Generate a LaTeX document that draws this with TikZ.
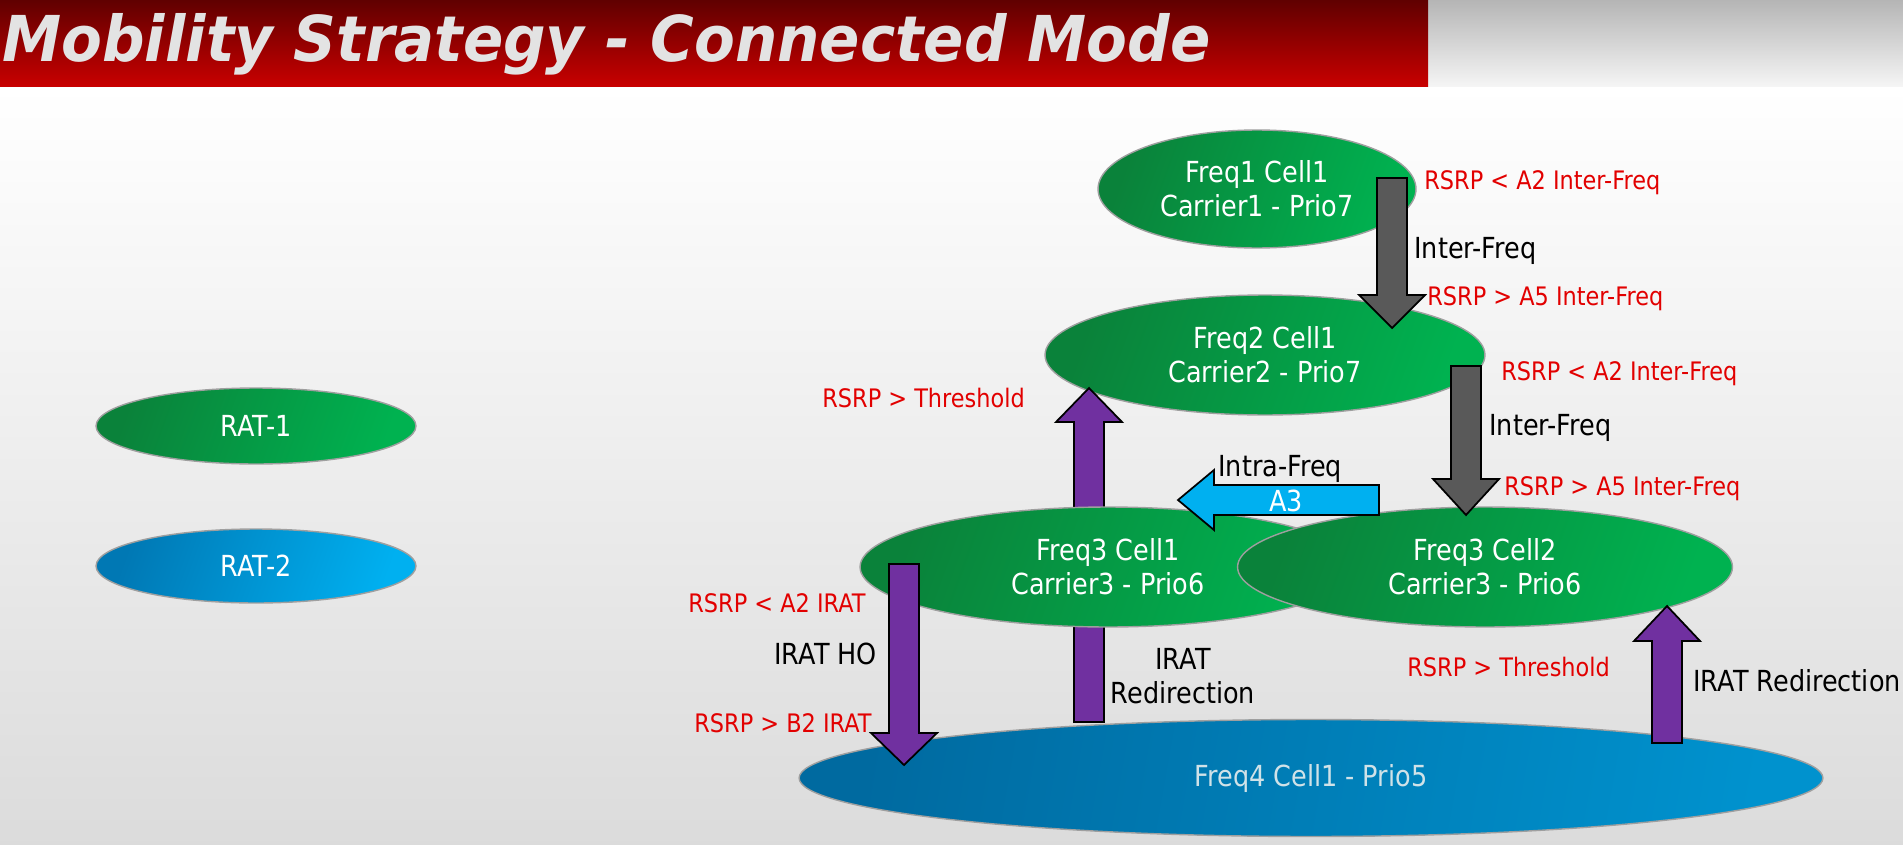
\documentclass[tikz,border=0pt]{standalone}
\usepackage{fontspec}
\setmainfont{DejaVu Sans}[FakeStretch=0.88]
\newfontfamily\titlefont{DejaVu Sans}[FakeStretch=0.94]
\usetikzlibrary{shapes.geometric}

\definecolor{cellgreen}{RGB}{0,178,80}
\definecolor{celldark}{RGB}{10,130,58}
\definecolor{ratblue}{RGB}{0,176,240}
\definecolor{ratdark}{RGB}{0,120,180}
\definecolor{lowblue}{RGB}{0,146,206}
\definecolor{lowdark}{RGB}{0,106,160}
\definecolor{lowtext}{RGB}{208,226,232}
\definecolor{hopurple}{RGB}{112,48,160}
\definecolor{hogray}{RGB}{89,89,89}
\definecolor{a3blue}{RGB}{0,176,240}
\definecolor{condred}{RGB}{226,0,0}
\definecolor{bannerdark}{RGB}{96,0,0}
\definecolor{bannerred}{RGB}{200,0,0}

% vertical block arrow: style, x, tail y, head base y, tip y
\newcommand{\vblock}[5]{%
  \draw[#1] (#2-15,#3) -- (#2-15,#4) -- (#2-33,#4) -- (#2,#5)
    -- (#2+33,#4) -- (#2+15,#4) -- (#2+15,#3) -- cycle;}

\begin{document}
\begin{tikzpicture}[
  x=0.02cm, y=-0.02cm,
  line join=miter,
  cell/.style={ellipse, draw=gray!75, line width=0.8pt, text=white,
    align=center, inner sep=0pt, font=\fontsize{16.5}{19.5}\selectfont},
  greencell/.style={cell, left color=celldark, right color=cellgreen, shading angle=70},
  bluecell/.style={cell, left color=ratdark, right color=ratblue, shading angle=70},
  lowcell/.style={cell, left color=lowdark, right color=lowblue, shading angle=80, text=lowtext},
  block/.style={draw=black, line width=1pt},
  cond/.style={text=condred, anchor=west, inner sep=0pt, font=\fontsize{14.5}{17}\selectfont},
  note/.style={text=black, anchor=west, inner sep=0pt, font=\fontsize{16.5}{19.5}\selectfont},
]

\useasboundingbox (0,0) rectangle (1903,845);

% background and title banner
\shade[top color=white, middle color=white, bottom color=gray!28] (0,86) rectangle (1903,845);
\shade[top color=gray!58, bottom color=gray!8] (1428,0) rectangle (1903,86);
\shade[top color=bannerdark, bottom color=bannerred] (0,0) rectangle (1428,86);
\node[anchor=base west, inner sep=0pt, text=gray!22,
  font=\titlefont\fontsize{36}{40}\selectfont\bfseries\itshape] (title) at (2,61)
  {Mobility Strategy - Connected Mode};

% the two RATs
\node[greencell, minimum width=6.4cm, minimum height=1.52cm] (rat1) at (256,426) {RAT-1};
\node[bluecell, minimum width=6.4cm, minimum height=1.48cm] (rat2) at (256,566) {RAT-2};

% the cells
\node[lowcell, minimum width=20.48cm, minimum height=2.34cm] (f4) at (1311,778) {Freq4 Cell1 - Prio5};
\node[greencell, minimum width=8.8cm, minimum height=2.4cm] (f2) at (1265,355) {Freq2 Cell1\\Carrier2 - Prio7};
\node[greencell, minimum width=6.36cm, minimum height=2.36cm] (f1) at (1257,189) {Freq1 Cell1\\Carrier1 - Prio7};

% IRAT redirection up to Freq2, partly hidden by Freq3 Cell1
\vblock{block, fill=hopurple}{1089}{722}{422}{388}

\node[greencell, minimum width=9.92cm, minimum height=2.4cm] (f3a) at (1108,567) {Freq3 Cell1\\Carrier3 - Prio6};
\node[greencell, minimum width=9.9cm, minimum height=2.4cm] (f3b) at (1485,567) {Freq3 Cell2\\Carrier3 - Prio6};

% inter-frequency handovers
\vblock{block, fill=hogray}{1392}{178}{295}{328}
\vblock{block, fill=hogray}{1466}{366}{479}{515}

% intra-frequency A3
\draw[block, fill=a3blue] (1379,485) -- (1214,485) -- (1214,470) -- (1178,500)
  -- (1214,530) -- (1214,515) -- (1379,515) -- cycle;
\node[text=white, font=\fontsize{16.5}{19.5}\selectfont] (a3) at (1286,501) {A3};
\node[note] (intra) at (1218,469) {Intra-Freq};

% IRAT down and back up
\vblock{block, fill=hopurple}{904}{564}{733}{765}
\vblock{block, fill=hopurple}{1667}{743}{641}{606}

% conditions
\node[cond] (c1) at (1424,183) {RSRP < A2 Inter-Freq};
\node[note] (n1) at (1414,251) {Inter-Freq};
\node[cond] (c2) at (1427,299) {RSRP > A5 Inter-Freq};
\node[cond] (c3) at (1501,374) {RSRP < A2 Inter-Freq};
\node[note] (n2) at (1489,428) {Inter-Freq};
\node[cond] (c4) at (1504,489) {RSRP > A5 Inter-Freq};
\node[cond] (c5) at (822,398) {RSRP > Threshold};
\node[cond] (c6) at (688,603) {RSRP < A2 IRAT};
\node[note] (n3) at (774,654) {IRAT HO};
\node[cond] (c7) at (694,723) {RSRP > B2 IRAT};
\node[note, anchor=center, align=center] (n4) at (1183,676) {IRAT\\Redirection};
\node[cond] (c8) at (1407,667) {RSRP > Threshold};
\node[note] (n5) at (1693,681) {IRAT Redirection};

\end{tikzpicture}
\end{document}
